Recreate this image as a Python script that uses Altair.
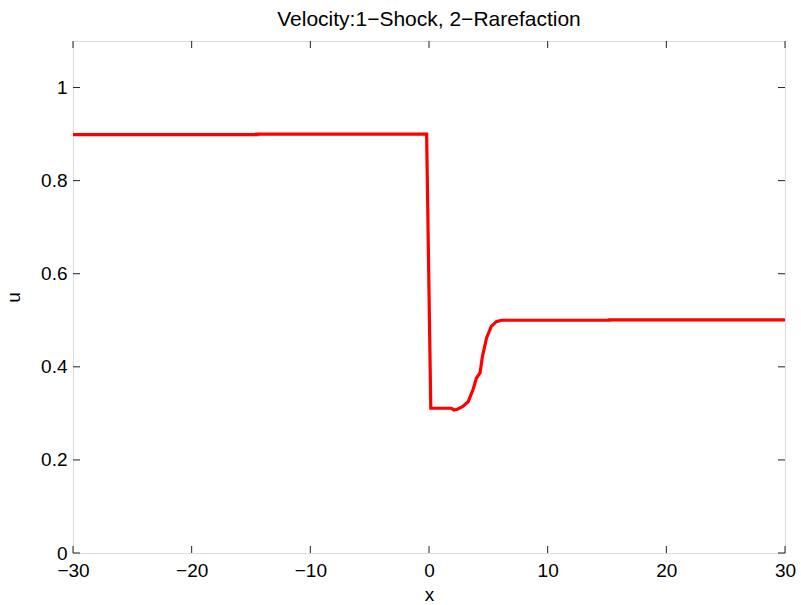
import altair as alt
import pandas as pd

# Data
xs = [-30, -14.5, -14.5, -0.2, 0.15, 1.9, 2.1, 2.4, 2.85, 3.3, 3.7, 4.0, 4.3, 4.5, 4.85, 5.25, 5.67, 6.1, 15.2, 15.2, 30]
us = [0.899, 0.899, 0.9, 0.9, 0.311, 0.311, 0.307, 0.309, 0.315, 0.325, 0.35, 0.376, 0.387, 0.422, 0.462, 0.487, 0.497, 0.5, 0.5, 0.501, 0.501]

x_ticks = [-30, -20, -10, 0, 10, 20, 30]
y_ticks = [0, 0.2, 0.4, 0.6, 0.8, 1]

W, H = 712, 512
FONT = "Liberation Sans"
LFS = 19

df = pd.DataFrame({"x": xs, "u": us})
df["o"] = list(range(len(xs)))

xscale = alt.Scale(domain=[-30, 30], nice=False, zero=False)
yscale = alt.Scale(domain=[0, 1.1], nice=False, zero=False)

line = alt.Chart(df).mark_line(color="#ff0000", strokeWidth=3.2, clip=True).encode(
    x=alt.X("x:Q", scale=xscale,
            axis=alt.Axis(values=x_ticks, title="x", format="~g",
                          labelExpr="replace(datum.label, '-', '\u2212')",
                          tickSize=0, domain=False, grid=False, labelPadding=8,
                          labelFlush=False, labelOverlap=False,
                          labelFontSize=LFS, titleFontSize=LFS, titleFontWeight="normal",
                          labelFont=FONT, titleFont=FONT, labelColor="#000", titleColor="#000",
                          titlePadding=5)),
    y=alt.Y("u:Q", scale=yscale,
            axis=alt.Axis(values=y_ticks, title="u", format="~g", tickSize=0, domain=False,
                          grid=False, labelPadding=6, labelFlush=False, labelOverlap=False,
                          labelFontSize=LFS, titleFontSize=LFS,
                          titleFontWeight="normal", labelFont=FONT, titleFont=FONT,
                          labelColor="#000", titleColor="#000", titlePadding=17)),
    order="o:Q",
)

xt = pd.DataFrame({"x": x_ticks})
yt = pd.DataFrame({"u": y_ticks})

tb = alt.Chart(xt).mark_rule(color="#222", strokeWidth=1).encode(
    x=alt.X("x:Q", scale=xscale), y=alt.value(H), y2=alt.value(H - 7))
tt = alt.Chart(xt).mark_rule(color="#222", strokeWidth=1).encode(
    x=alt.X("x:Q", scale=xscale), y=alt.value(0), y2=alt.value(7))
tl = alt.Chart(yt).mark_rule(color="#222", strokeWidth=1).encode(
    y=alt.Y("u:Q", scale=yscale), x=alt.value(0), x2=alt.value(7))
tr = alt.Chart(yt).mark_rule(color="#222", strokeWidth=1).encode(
    y=alt.Y("u:Q", scale=yscale), x=alt.value(W), x2=alt.value(W - 7))

chart = alt.layer(line, tb, tt, tl, tr).properties(
    width=W, height=H,
    title=alt.TitleParams("Velocity:1\u2212Shock, 2\u2212Rarefaction", fontSize=21,
                          font=FONT, fontWeight="normal", color="#000", offset=11),
    padding={"left": 73, "top": 41, "right": 16, "bottom": 52},
    autosize=alt.AutoSizeParams(type="none"),
).configure_view(stroke="#222", strokeWidth=1.2).configure(background="white")

chart.save("out.html", embed_options={"renderer": "svg", "actions": False})
